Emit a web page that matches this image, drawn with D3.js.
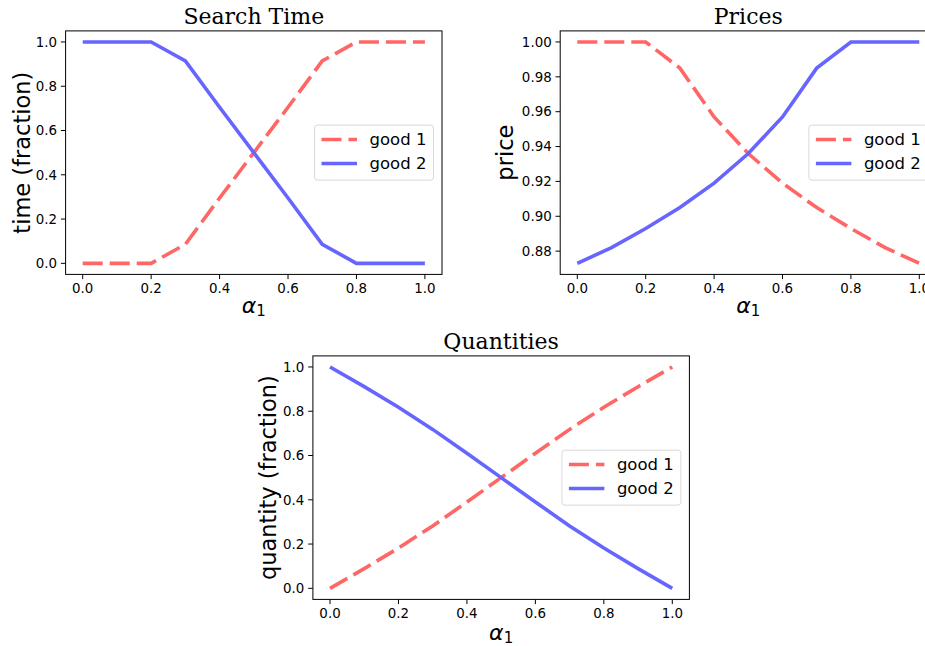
<!DOCTYPE html>
<html lang="en">
<head>
  <meta charset="UTF-8">
  <title>Search Time / Prices / Quantities</title>
  <script src="https://d3js.org/d3.v7.min.js"></script>
  <style>
    body {
      margin: 0;
      background: #ffffff;
    }
    svg {
      display: block;
    }
    .tick-label {
      font-family: 'DejaVu Sans', sans-serif;
      font-size: 13.4px;
      fill: #000;
    }
    .title {
      font-family: 'DejaVu Serif', serif;
      font-size: 22px;
      fill: #000;
    }
    .ylabel {
      font-family: 'DejaVu Sans', sans-serif;
      font-size: 22.5px;
      fill: #000;
    }
    .xlabel {
      font-family: 'DejaVu Sans', sans-serif;
      font-size: 22px;
      font-style: italic;
      fill: #000;
    }
    .legend-text {
      font-family: 'DejaVu Sans', sans-serif;
      font-size: 16.5px;
      fill: #000;
    }
  </style>
</head>
<body>
  <svg width="925" height="646"></svg>
  <script>
    // alpha_1 grid shared by all three panels
    const alpha = [0, 0.1, 0.2, 0.3, 0.4, 0.5, 0.6, 0.7, 0.8, 0.9, 1.0];

    // search time (fraction)
    const timeGood1 = [0, 0, 0, 0.086, 0.295, 0.5, 0.705, 0.914, 1, 1, 1];
    const timeGood2 = [1, 1, 1, 0.914, 0.705, 0.5, 0.295, 0.086, 0, 0, 0];

    // prices
    const priceGood1 = [1, 1, 1, 0.985, 0.957, 0.936, 0.919, 0.905, 0.893, 0.882, 0.873];
    const priceGood2 = [0.873, 0.882, 0.893, 0.905, 0.919, 0.936, 0.957, 0.985, 1, 1, 1];

    // quantities (fraction)
    const qtyGood1 = [0, 0.089, 0.182, 0.282, 0.39, 0.5, 0.61, 0.718, 0.818, 0.911, 1];
    const qtyGood2 = [1, 0.911, 0.818, 0.718, 0.61, 0.5, 0.39, 0.282, 0.182, 0.089, 0];

    const xTicks = [0, 0.2, 0.4, 0.6, 0.8, 1.0];
    const fracTicks = [0, 0.2, 0.4, 0.6, 0.8, 1.0];
    const priceTicks = [0.88, 0.90, 0.92, 0.94, 0.96, 0.98, 1.00];

    const seriesNames = ["good 1", "good 2"];
    const red = "#ff6666";
    const blue = "#6666ff";

    const svg = d3.select("svg");

    const panels = [
      {
        title: "Search Time", ylabel: "time (fraction)",
        box: [65.6, 442, 30.9, 274.4], ylabelX: 29.5,
        yDomain: [-0.05, 1.05], yTicks: fracTicks, yFmt: d3.format(".1f"),
        s1: timeGood1, s2: timeGood2, titleY: 24, xlabelY: 313
      },
      {
        title: "Prices", ylabel: "price",
        box: [560.2, 936.4, 30.9, 274.4], ylabelX: 513,
        yDomain: [0.86665, 1.00635], yTicks: priceTicks, yFmt: d3.format(".2f"),
        s1: priceGood1, s2: priceGood2, titleY: 24, xlabelY: 313
      },
      {
        title: "Quantities", ylabel: "quantity (fraction)",
        box: [312.9, 689.4, 355.9, 599.4], ylabelX: 276,
        yDomain: [-0.05, 1.05], yTicks: fracTicks, yFmt: d3.format(".1f"),
        s1: qtyGood1, s2: qtyGood2, titleY: 349, xlabelY: 640
      }
    ];

    panels.forEach(p => {
      const [x0, x1, y0, y1] = p.box;
      const x = d3.scaleLinear().domain([-0.05, 1.05]).range([x0, x1]);
      const y = d3.scaleLinear().domain(p.yDomain).range([y1, y0]);
      const g = svg.append("g");

      // x ticks
      xTicks.forEach(t => {
        g.append("line")
          .attr("x1", x(t)).attr("x2", x(t))
          .attr("y1", y1).attr("y2", y1 + 4.7)
          .attr("stroke", "#000").attr("stroke-width", 1);
        g.append("text")
          .attr("class", "tick-label")
          .attr("x", x(t)).attr("y", y1 + 18.7)
          .attr("text-anchor", "middle")
          .text(d3.format(".1f")(t));
      });

      // y ticks
      p.yTicks.forEach(t => {
        g.append("line")
          .attr("x1", x0 - 4.7).attr("x2", x0)
          .attr("y1", y(t)).attr("y2", y(t))
          .attr("stroke", "#000").attr("stroke-width", 1);
        g.append("text")
          .attr("class", "tick-label")
          .attr("x", x0 - 8.5).attr("y", y(t) + 4.8)
          .attr("text-anchor", "end")
          .text(p.yFmt(t));
      });

      const line = d3.line()
        .x((d, i) => x(alpha[i]))
        .y(d => y(d));

      g.append("path")
        .datum(p.s1)
        .attr("d", line)
        .attr("fill", "none")
        .attr("stroke", red)
        .attr("stroke-width", 3.6)
        .attr("stroke-dasharray", "20,7");

      g.append("path")
        .datum(p.s2)
        .attr("d", line)
        .attr("fill", "none")
        .attr("stroke", blue)
        .attr("stroke-width", 3.6);

      // frame
      g.append("rect")
        .attr("x", x0).attr("y", y0)
        .attr("width", x1 - x0).attr("height", y1 - y0)
        .attr("fill", "none")
        .attr("stroke", "#000")
        .attr("stroke-width", 1);

      // title
      g.append("text")
        .attr("class", "title")
        .attr("x", (x0 + x1) / 2).attr("y", p.titleY)
        .attr("text-anchor", "middle")
        .text(p.title);

      // y label
      g.append("text")
        .attr("class", "ylabel")
        .attr("transform", `translate(${p.ylabelX},${(y0 + y1) / 2}) rotate(-90)`)
        .attr("text-anchor", "middle")
        .text(p.ylabel);

      // x label: alpha_1
      const xl = g.append("text")
        .attr("class", "xlabel")
        .attr("x", (x0 + x1) / 2).attr("y", p.xlabelY)
        .attr("text-anchor", "middle");
      xl.append("tspan").text("α");
      xl.append("tspan")
        .attr("font-style", "normal")
        .attr("font-size", "15px")
        .attr("dy", 3)
        .text("1");

      // legend
      const lw = 119, lh = 55;
      const lx = x1 - 8.5 - lw;
      const ly = (y0 + y1) / 2 - lh / 2;
      const leg = g.append("g").attr("transform", `translate(${lx},${ly})`);
      leg.append("rect")
        .attr("width", lw).attr("height", lh)
        .attr("rx", 3).attr("ry", 3)
        .attr("fill", "#ffffff").attr("fill-opacity", 0.8)
        .attr("stroke", "#d9d9d9").attr("stroke-width", 1);
      const rows = [
        { name: seriesNames[0], color: red, dash: "20,7", yy: 14.3 },
        { name: seriesNames[1], color: blue, dash: null, yy: 38.3 }
      ];
      rows.forEach(r => {
        leg.append("line")
          .attr("x1", 7).attr("x2", 42.5)
          .attr("y1", r.yy).attr("y2", r.yy)
          .attr("stroke", r.color)
          .attr("stroke-width", 3.6)
          .attr("stroke-dasharray", r.dash);
        leg.append("text")
          .attr("class", "legend-text")
          .attr("x", 55).attr("y", r.yy + 6)
          .text(r.name);
      });
    });
  </script>
</body>
</html>
